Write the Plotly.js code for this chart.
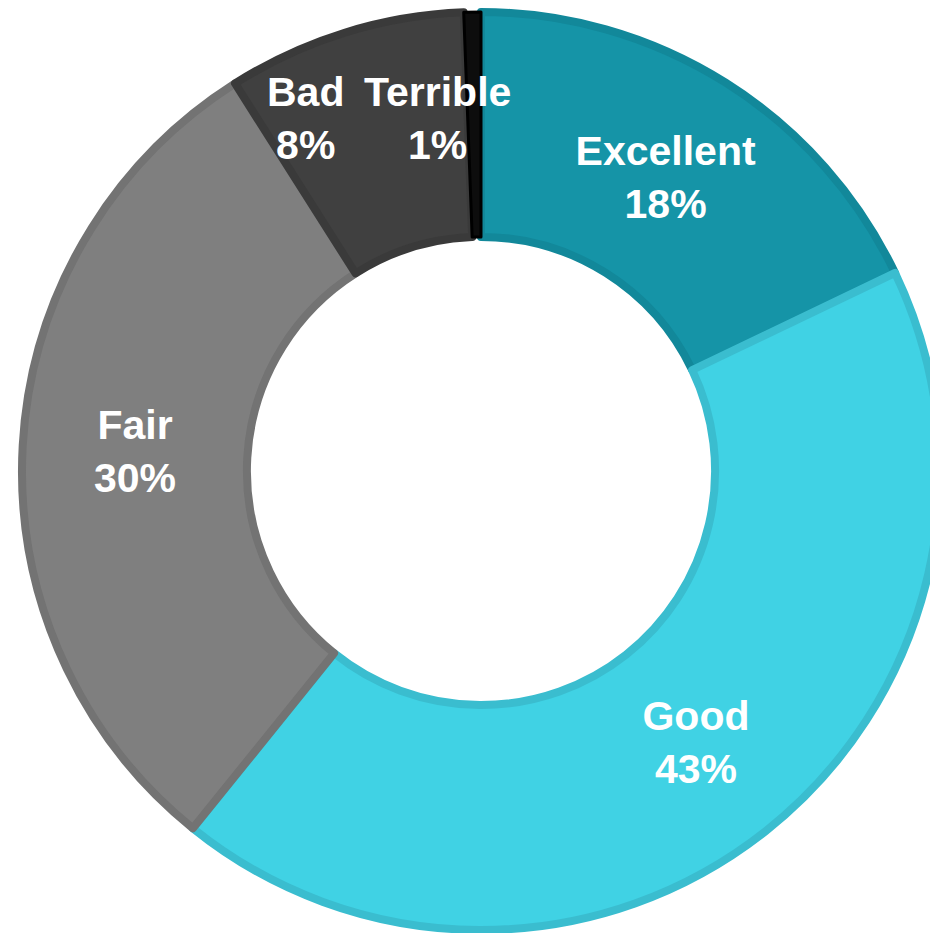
<!DOCTYPE html>
<html>
<head>
<meta charset="utf-8">
<script src="https://cdn.plot.ly/plotly-3.0.1.min.js"></script>
<style>
html,body{margin:0;padding:0;background:#fff;overflow:hidden;}
#chart{width:960px;height:940px;}
</style>
</head>
<body>
<div id="chart"></div>
<script>
const labels = ['Excellent', 'Good', 'Fair', 'Bad', 'Terrible'];
const values = [17.9, 42.9, 30.2, 8.4, 0.6];
const fillColors = ['#1594A7', '#40D2E4', '#7F7F7F', '#404040', '#0D0D0D'];
const edgeColors = ['#12889A', '#3ABDCF', '#737373', '#3A3A3A', '#000000'];
const edgeWidths = [8, 8, 8, 8, 3];
const insideLabel = [true, true, true, false, false];

const total = values.reduce((a, b) => a + b, 0);
const pct = values.map(v => Math.round(v / total * 100) + '%');

const trace = {
  type: 'pie',
  labels: labels,
  values: values,
  sort: false,
  direction: 'clockwise',
  rotation: 0,
  hole: 0.51,
  domain: {x: [0.02292, 0.97917], y: [0.01064, 0.98723]},
  marker: {colors: fillColors, line: {color: edgeColors, width: edgeWidths}},
  texttemplate: '%{label}<br>%{percent:.0%}',
  textposition: insideLabel.map(f => f ? 'inside' : 'none'),
  insidetextorientation: 'horizontal',
  textfont: {family: 'Liberation Sans, Arial, sans-serif', size: 41, color: '#FFFFFF', weight: 'bold'},
  showlegend: false,
  hoverinfo: 'label+percent'
};

const outsidePos = {Bad: [305, 118], Terrible: [437, 118]};
const annotations = labels.map((l, i) => insideLabel[i] ? null : {
  text: '<b>' + l + '</b><br><b>' + pct[i] + '</b>',
  xref: 'paper', yref: 'paper',
  x: outsidePos[l][0] / 960, y: (940 - outsidePos[l][1]) / 940,
  xanchor: 'center', yanchor: 'middle',
  showarrow: false,
  font: {family: 'Liberation Sans, Arial, sans-serif', size: 41, color: '#FFFFFF'}
}).filter(a => a);

const layout = {
  width: 960, height: 940,
  margin: {l: 0, r: 0, t: 0, b: 0},
  paper_bgcolor: '#FFFFFF',
  plot_bgcolor: '#FFFFFF',
  annotations: annotations
};

Plotly.newPlot('chart', [trace], layout, {displayModeBar: false, staticPlot: true});
</script>
</body>
</html>
